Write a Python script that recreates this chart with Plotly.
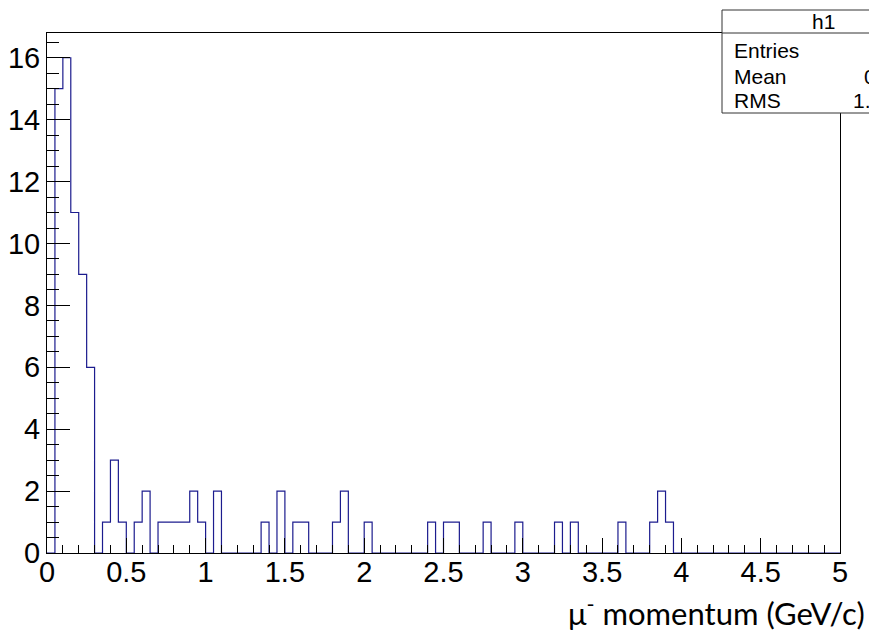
import plotly.graph_objects as go

# ---- data ----
bin_width = 0.05
x_min, x_max = 0.0, 5.0
counts = [
    0, 15, 16, 11, 9, 6, 0, 1, 3, 1, 0, 1, 2, 0, 1, 1, 1, 1, 2, 1,
    0, 2, 0, 0, 0, 0, 0, 1, 0, 2, 0, 1, 1, 0, 0, 0, 1, 2, 0, 0,
    1, 0, 0, 0, 0, 0, 0, 0, 1, 0, 1, 1, 0, 0, 0, 1, 0, 0, 0, 1,
    0, 0, 0, 0, 1, 0, 1, 0, 0, 0, 0, 0, 1, 0, 0, 0, 1, 2, 1, 0,
    0, 0, 0, 0, 0, 0, 0, 0, 0, 0, 0, 0, 0, 0, 0, 0, 0, 0, 0, 0,
]
x_ticks = [0, 0.5, 1, 1.5, 2, 2.5, 3, 3.5, 4, 4.5, 5]
x_tick_labels = ["0", "0.5", "1", "1.5", "2", "2.5", "3", "3.5", "4", "4.5", "5"]
y_ticks = [0, 2, 4, 6, 8, 10, 12, 14, 16]
stats_title = "h1"
stats_labels = ["Entries", "Mean", "RMS"]
stats_values = ["95", "0.79", "1.03"]
x_title = "μ<sup>-</sup> momentum (GeV/c)"

n_bins = len(counts)
edges = [x_min + i * bin_width for i in range(n_bins + 1)]
step_x = edges[:n_bins] + [edges[n_bins]]
step_y = counts + [counts[-1]]

W, H = 869, 639
# plot frame in pixels: x 47..840, y 33..553
L, T = 47, 33
R, B = W - 840, H - 553
pw, ph = W - L - R, H - T - B

def px_x(px):
    return (px - L) / pw

def px_y(py):
    return (H - B - py) / ph

fig = go.Figure()
fig.add_trace(go.Scatter(
    x=step_x, y=step_y, mode="lines", line_shape="hv",
    line=dict(color="#1c1c8e", width=1.2), hoverinfo="skip", showlegend=False,
))

tick_font = dict(family="Liberation Sans, Arial, sans-serif", size=29, color="black")
fig.update_xaxes(
    range=[x_min, x_max], tickmode="array", tickvals=x_ticks, ticktext=x_tick_labels,
    ticks="inside", ticklen=15, tickwidth=1, tickcolor="black",
    minor=dict(dtick=0.1, ticks="inside", ticklen=8, tickwidth=1, tickcolor="black", showgrid=False),
    showline=True, linecolor="black", linewidth=1, mirror=True,
    showgrid=False, zeroline=False, tickfont=tick_font, ticklabelstandoff=-7,
)
fig.update_yaxes(
    range=[0, 16.8], tickmode="array", tickvals=y_ticks,
    ticks="inside", ticklen=23, tickwidth=1, tickcolor="black",
    minor=dict(dtick=0.5, ticks="inside", ticklen=12, tickwidth=1, tickcolor="black", showgrid=False),
    showline=True, linecolor="black", linewidth=1, mirror=True,
    showgrid=False, zeroline=False, tickfont=tick_font,
)

# stats box (extends past the right edge, as in the reference)
bx0, bx1 = px_x(722), px_x(925)
by_top, by_head, by_bot = px_y(10), px_y(33), px_y(113)
fig.add_shape(type="rect", xref="paper", yref="paper", x0=bx0, x1=bx1, y0=by_bot, y1=by_top,
              line=dict(color="#333333", width=1), fillcolor="white", layer="above")
fig.add_shape(type="line", xref="paper", yref="paper", x0=bx0, x1=bx1, y0=by_head, y1=by_head,
              line=dict(color="#333333", width=1), layer="above")
stat_font = dict(family="Liberation Sans, Arial, sans-serif", size=21, color="black")
fig.add_annotation(xref="paper", yref="paper", x=px_x(823), y=px_y(21), text=stats_title,
                   showarrow=False, xanchor="center", yanchor="middle", font=stat_font)
row_y = [50, 76, 101]
val_x = [905, 862, 851]
for lab, val, ry, vx in zip(stats_labels, stats_values, row_y, val_x):
    fig.add_annotation(xref="paper", yref="paper", x=px_x(732), y=px_y(ry), text=lab,
                       showarrow=False, xanchor="left", yanchor="middle", font=stat_font)
    fig.add_annotation(xref="paper", yref="paper", x=px_x(vx), y=px_y(ry), text=val,
                       showarrow=False, xanchor="left", yanchor="middle", font=stat_font)

# x title
fig.add_annotation(xref="paper", yref="paper", x=px_x(867), y=px_y(634), text=x_title,
                   showarrow=False, xanchor="right", yanchor="bottom",
                   font=dict(family="Lato, Open Sans, sans-serif", size=31, color="black"))

fig.update_layout(
    width=W, height=H, margin=dict(l=L, r=R, t=T, b=B, autoexpand=False),
    paper_bgcolor="white", plot_bgcolor="white", showlegend=False,
)
fig.write_html("out.html", config={"displayModeBar": False},
               post_script="document.body.style.margin='0px';document.body.style.overflow='hidden';")
